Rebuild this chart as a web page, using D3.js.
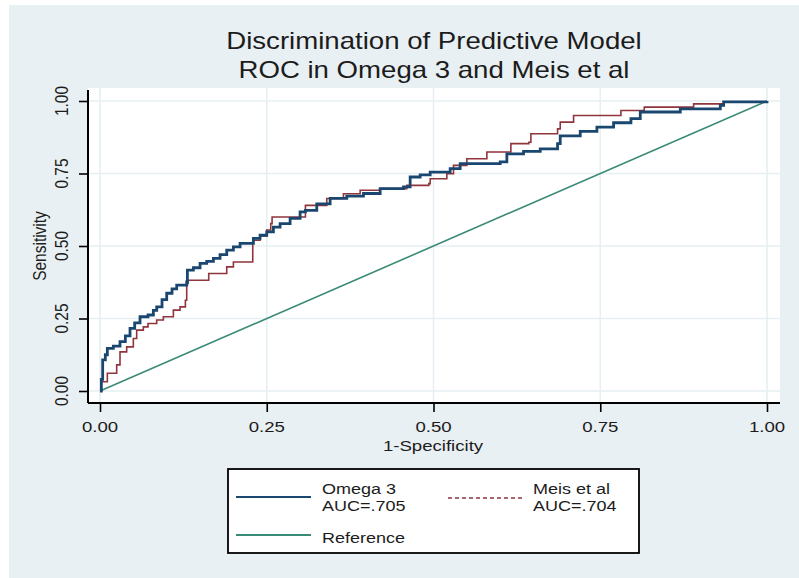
<!DOCTYPE html>
<html>
<head>
<meta charset="utf-8">
<script src="https://cdn.jsdelivr.net/npm/d3@7"></script>
<style>
  html, body { margin: 0; padding: 0; background: #ffffff; }
  svg { display: block; }
  text { font-family: "Liberation Sans", Arial, Helvetica, sans-serif; fill: #1c1c1c; }
</style>
</head>
<body>
<svg id="chart" width="799" height="578"></svg>
<script>
// ROC coordinates (1-specificity, sensitivity) for each model
const omega3FPR = [0,0.002,0.004,0.008,0.011,0.02,0.03,0.038,0.045,0.052,0.06,0.072,0.08,0.085,0.093,0.10,0.108,0.115,0.13,0.131,0.14,0.15,0.16,0.17,0.18,0.19,0.2,0.21,0.23,0.24,0.25,0.26,0.27,0.285,0.30,0.308,0.325,0.345,0.37,0.395,0.42,0.455,0.465,0.48,0.495,0.525,0.54,0.6,0.61,0.635,0.66,0.686,0.69,0.72,0.745,0.77,0.796,0.81,0.87,0.93,0.935,1];
const omega3TPR = [0,0.04,0.107,0.125,0.147,0.155,0.17,0.19,0.216,0.235,0.256,0.262,0.278,0.29,0.315,0.337,0.352,0.365,0.376,0.417,0.425,0.44,0.447,0.457,0.47,0.486,0.497,0.509,0.526,0.537,0.549,0.565,0.577,0.595,0.618,0.623,0.645,0.664,0.672,0.681,0.698,0.704,0.738,0.745,0.755,0.767,0.784,0.79,0.818,0.826,0.835,0.853,0.88,0.895,0.91,0.925,0.939,0.962,0.973,0.985,0.997,1];

const meisFPR = [0,0.002,0.011,0.025,0.03,0.04,0.05,0.055,0.065,0.072,0.085,0.095,0.11,0.12,0.128,0.13,0.132,0.16,0.163,0.19,0.2,0.228,0.229,0.24,0.25,0.256,0.258,0.30,0.308,0.34,0.365,0.39,0.42,0.46,0.493,0.495,0.52,0.53,0.55,0.58,0.616,0.643,0.646,0.686,0.69,0.71,0.778,0.781,0.816,0.89,0.935,1];
const meisTPR = [0,0.032,0.061,0.09,0.135,0.152,0.181,0.21,0.221,0.233,0.245,0.256,0.279,0.29,0.313,0.371,0.382,0.382,0.405,0.428,0.445,0.445,0.52,0.535,0.555,0.577,0.60,0.60,0.64,0.664,0.68,0.692,0.698,0.709,0.715,0.732,0.749,0.778,0.801,0.824,0.853,0.858,0.887,0.904,0.927,0.95,0.95,0.967,0.979,0.99,0.997,1];

const tickValues = [0, 0.25, 0.5, 0.75, 1];
const tickLabels = ["0.00", "0.25", "0.50", "0.75", "1.00"];

const titleLines = ["Discrimination of Predictive Model", "ROC in Omega 3 and Meis et al"];
const seriesNames = ["Omega 3", "Meis et al", "Reference"];
const aucLabels = ["AUC=.705", "AUC=.704"];

const SX = 1.2; // horizontal glyph stretch used throughout

const svg = d3.select("#chart");

// graph region background
svg.append("rect").attr("x", 9).attr("y", 5).attr("width", 790).attr("height", 573).attr("fill", "#e9f0f3");

// plot region
const plot = { left: 88, right: 780, top: 88, bottom: 403 };
svg.append("rect")
  .attr("x", plot.left).attr("y", plot.top)
  .attr("width", plot.right - plot.left).attr("height", plot.bottom - plot.top)
  .attr("fill", "#ffffff");

const x = d3.scaleLinear().domain([0, 1]).range([100, 767]);
const y = d3.scaleLinear().domain([0, 1]).range([391, 101]);

// grid
const grid = svg.append("g").attr("stroke", "#e6eff2").attr("stroke-width", 1.6);
grid.selectAll("line.v").data(tickValues).join("line")
  .attr("x1", d => x(d)).attr("x2", d => x(d)).attr("y1", plot.top).attr("y2", plot.bottom);
grid.selectAll("line.h").data(tickValues).join("line")
  .attr("y1", d => y(d)).attr("y2", d => y(d)).attr("x1", plot.left).attr("x2", plot.right);

// axes: tick marks from d3, labels drawn separately with the glyph stretch
const fmt = d => tickLabels[tickValues.indexOf(d)];
const xAxis = svg.append("g").attr("transform", `translate(0,${plot.bottom})`)
  .call(d3.axisBottom(x).tickValues(tickValues).tickFormat(fmt).tickSize(9).tickPadding(4));
const yAxis = svg.append("g").attr("transform", `translate(${plot.left},0)`)
  .call(d3.axisLeft(y).tickValues(tickValues).tickFormat(fmt).tickSize(9).tickPadding(4));

[xAxis, yAxis].forEach(g => {
  g.select(".domain").remove();
  g.selectAll(".tick line").attr("stroke", "#000").attr("stroke-width", 1.6);
  g.selectAll(".tick text").remove();
});
svg.append("line").attr("x1", plot.left).attr("x2", plot.right).attr("y1", plot.bottom).attr("y2", plot.bottom)
  .attr("stroke", "#000").attr("stroke-width", 2);
svg.append("line").attr("x1", plot.left).attr("x2", plot.left).attr("y1", plot.top + 2).attr("y2", plot.bottom)
  .attr("stroke", "#000").attr("stroke-width", 2);

svg.append("g").selectAll("text").data(tickValues).join("text")
  .attr("transform", d => `translate(${x(d)},432) scale(${SX},1)`)
  .attr("text-anchor", "middle").attr("font-size", 15.5)
  .text(fmt);
svg.append("g").selectAll("text").data(tickValues).join("text")
  .attr("transform", d => `translate(68,${y(d)}) scale(${SX},1) rotate(-90)`)
  .attr("text-anchor", "middle").attr("font-size", 15.5)
  .text(fmt);

// axis titles
svg.append("text").attr("transform", `translate(433,451) scale(${SX},1)`)
  .attr("text-anchor", "middle").attr("font-size", 15.5).text("1-Specificity");
svg.append("text").attr("transform", `translate(46,246) scale(${SX},1) rotate(-90)`)
  .attr("text-anchor", "middle").attr("font-size", 15.5).text("Sensitivity");

// title
svg.append("g").selectAll("text").data(titleLines).join("text")
  .attr("transform", (d, i) => `translate(434,${49 + i * 29}) scale(${SX},1)`)
  .attr("text-anchor", "middle").attr("font-size", 23).attr("fill", "#1e1e1e")
  .text(d => d);

// curves
const navy = "#1a476f", maroon = "#90353b", teal = "#3a8a78";
const pts = (fx, fy) => fx.map((v, i) => [v, fy[i]]);
const line = d3.line().x(d => x(d[0])).y(d => y(d[1])).curve(d3.curveStepAfter);

svg.append("line")
  .attr("x1", x(0)).attr("y1", y(0)).attr("x2", x(1)).attr("y2", y(1))
  .attr("stroke", teal).attr("stroke-width", 1.6);

svg.append("path").datum(pts(meisFPR, meisTPR))
  .attr("d", line).attr("fill", "none").attr("stroke", maroon).attr("stroke-width", 1.6);

svg.append("path").datum(pts(omega3FPR, omega3TPR))
  .attr("d", line).attr("fill", "none").attr("stroke", navy).attr("stroke-width", 2.8);

// legend
const lg = svg.append("g");
lg.append("rect").attr("x", 228).attr("y", 469).attr("width", 411).attr("height", 84)
  .attr("fill", "#ffffff").attr("stroke", "#000").attr("stroke-width", 1.8);
lg.append("line").attr("x1", 236).attr("x2", 311).attr("y1", 497).attr("y2", 497)
  .attr("stroke", navy).attr("stroke-width", 2);
lg.append("line").attr("x1", 448).attr("x2", 522).attr("y1", 498).attr("y2", 498)
  .attr("stroke", maroon).attr("stroke-width", 1.6).attr("stroke-dasharray", "4,3");
lg.append("line").attr("x1", 236).attr("x2", 311).attr("y1", 535).attr("y2", 535)
  .attr("stroke", teal).attr("stroke-width", 2);

const legText = [
  { t: seriesNames[0], x: 322, y: 494 },
  { t: aucLabels[0], x: 322, y: 511 },
  { t: seriesNames[1], x: 533, y: 494 },
  { t: aucLabels[1], x: 533, y: 511 },
  { t: seriesNames[2], x: 322, y: 543 }
];
lg.selectAll("text").data(legText).join("text")
  .attr("transform", d => `translate(${d.x},${d.y}) scale(${SX},1)`)
  .attr("font-size", 15).text(d => d.t);
</script>
</body>
</html>
